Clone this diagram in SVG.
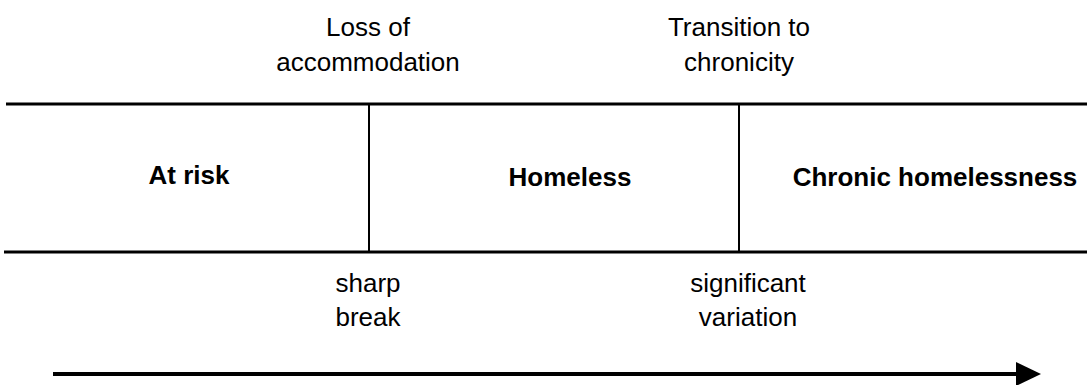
<svg xmlns="http://www.w3.org/2000/svg" width="1087" height="385" viewBox="0 0 1087 385">
<style>
.t{font-family:"Liberation Sans",Arial,sans-serif;font-size:26px;fill:#000;text-anchor:middle}
.b{font-weight:bold}
.ln{stroke:#000;stroke-width:3;fill:none}
.vl{stroke:#000;stroke-width:2;fill:none}
</style>
<defs>
<marker id="ah" markerUnits="userSpaceOnUse" markerWidth="26" markerHeight="26" refX="0" refY="12" orient="auto">
<path d="M0,0 L25,12 L0,24 Z" fill="#000"/>
</marker>
</defs>
<rect width="1087" height="385" fill="#fff"/>
<g id="connectors">
<line class="ln" x1="6" y1="104" x2="1087" y2="104"/>
<line class="ln" x1="4" y1="252" x2="1087" y2="252"/>
<line class="vl" x1="369" y1="104" x2="369" y2="252"/>
<line class="vl" x1="739" y1="104" x2="739" y2="252"/>
<line stroke="#000" stroke-width="4" x1="53" y1="374" x2="1016" y2="374" marker-end="url(#ah)"/>
</g>
<g id="at-risk"><text class="t b" x="189" y="184">At risk</text></g>
<g id="homeless"><text class="t b" x="570" y="186">Homeless</text></g>
<g id="chronic"><text class="t b" x="935" y="186">Chronic homelessness</text></g>
<g id="loss"><text class="t" x="368" y="36">Loss of</text><text class="t" x="368" y="71">accommodation</text></g>
<g id="transition"><text class="t" x="739" y="36">Transition to</text><text class="t" x="739" y="71">chronicity</text></g>
<g id="sharp"><text class="t" x="368" y="292">sharp</text><text class="t" x="368" y="326">break</text></g>
<g id="variation"><text class="t" x="748" y="292">significant</text><text class="t" x="748" y="326">variation</text></g>
</svg>
